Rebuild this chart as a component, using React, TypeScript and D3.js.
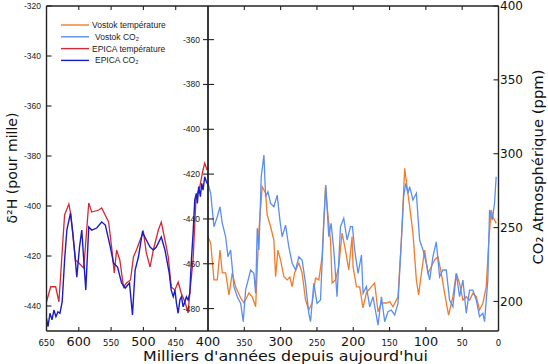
import React from 'react';
import * as d3 from 'd3';

// [age ka, δD ‰] EPICA
const epicaTemp: [number, number][] = [
  [650, -438.3], [643.5, -432.3], [635.8, -432.3], [630.8, -438.3], [622, -403.6], [615.4, -399.2],
  [612.8, -402.8], [605.1, -421.6], [600, -422.8], [592.3, -424.8], [584.6, -398.8], [580, -402.4],
  [569.2, -401.6], [564.6, -400.8], [553.8, -406.4], [549.2, -416.4], [545.1, -426.8], [541.5, -417.6],
  [536.5, -421.6], [530.8, -432.4], [526.2, -430.8], [520, -429.6], [515.4, -420.4], [510.8, -417.6],
  [505.1, -413.6], [500, -410.4], [495.4, -418.8], [489.7, -424.4], [484.6, -417.6], [476.9, -409.6],
  [472.3, -406.4], [466.6, -413.6], [461.5, -420.4], [456.9, -432.4], [451.2, -433.6], [446.2, -430.4],
  [441.5, -434.8], [435.8, -438.3], [430.8, -442.8], [428.2, -434.8], [423.1, -421.6], [418.5, -396.4],
  [412.8, -392.4], [407.7, -385.6], [405.1, -382.8], [401.5, -385.6],
];

// [age ka, CO2 ppm] EPICA
const epicaCO2: [number, number][] = [
  [650, 188.6], [647.7, 183], [644.6, 192], [641.5, 187.5], [638.5, 194.2], [635.4, 189.7], [632.3, 193],
  [629.2, 192], [625.7, 199.8], [622, 228], [618.5, 248.3], [612.8, 259.9], [609.2, 246.3], [605.1, 226.7],
  [603.1, 216.5], [598.9, 236.8], [595.4, 248.3], [592.3, 228], [589.2, 207.7], [584.6, 250.4], [580, 248.3],
  [572.3, 249.7], [564.6, 253.8], [558.9, 251.7], [551.2, 236.8], [546.2, 226], [540, 223.3], [533.8, 212.5],
  [528.2, 209.1], [521.5, 212.5], [516.9, 190.8], [512.8, 221.3], [507.7, 230.1], [501.5, 247], [495.4, 241.6],
  [489.7, 236.8], [484.6, 234.8], [480, 236.8], [472.3, 243.6], [466.6, 234.8], [460, 219.2], [456.9, 207.7],
  [453.8, 203.2], [451.2, 207.7], [448.8, 198.7], [446.2, 192], [443.5, 201], [441.1, 203.2], [438.5, 196.4],
  [435.8, 199.8], [433.4, 203.2], [430.8, 201], [428.2, 205.5], [425.7, 228], [423.1, 246.1], [420.5, 268.7],
  [418, 273.2], [416.5, 266.4], [414.4, 277.7], [411.8, 271], [409.7, 280], [407.7, 275.4], [405.1, 284.4],
  [402.6, 281], [400, 279],
];

// [age ka, δD ‰] Vostok
const vostokTemp: [number, number][] = [
  [400, -447.9], [396.3, -450.7], [391.8, -467.2], [387.2, -467.2], [383.5, -453.9], [380.3, -464.1],
  [375.7, -464.1], [371.1, -473.9], [366.6, -464.1], [361.9, -470.4], [355, -475.3], [350.5, -477.5],
  [343.6, -473], [339.1, -474.8], [334.4, -479.2], [329.9, -444.9], [325.4, -425.6], [320.7, -428.4],
  [318.5, -438.2], [313.8, -443.5], [309.3, -449.4], [306.9, -465.8], [303.8, -453.9], [300.1, -458.3],
  [295.5, -465.8], [291, -467.2], [287.3, -465.9], [284.1, -470.2], [280.8, -464.1], [274.9, -459.7],
  [270.4, -464.1], [265.7, -476.2], [261.2, -480.6], [256.6, -477.5], [252, -466.4], [247.4, -467.2],
  [242.9, -456.9], [238.2, -425.6], [235.1, -437.4], [231.3, -449.4], [229.1, -468.6], [224.5, -467.2],
  [220, -461.3], [215.4, -446.3], [210.7, -453.9], [206.2, -462.8], [201.6, -447.9], [200.3, -461.3],
  [195.6, -470.2], [191.1, -470.4], [186.6, -479.7], [181.9, -473], [175, -470.2], [170.5, -468.6],
  [165.9, -481.4], [161.2, -477.5], [154.4, -477.5], [149.8, -476.9], [145.3, -479.2], [138.4, -474.7],
  [133.7, -449.4], [129.2, -417.4], [126, -425.6], [122.3, -434.5], [117.8, -446.3], [113.1, -467.2],
  [110, -473.9], [106.2, -464.3], [101.7, -453.9], [97.2, -464.3], [92.5, -461.3], [88, -458.3],
  [83.4, -456.9], [78.7, -464.3], [74.2, -473.2], [68.7, -482.9], [62.8, -474.7], [58.1, -464.3],
  [53.6, -468.7], [49, -476.2], [44.4, -474.7], [39.9, -476.2], [35.3, -473.2], [30.6, -474.7],
  [26.1, -480.6], [21.5, -477.6], [16.9, -470.2], [13.3, -449.4], [10, -436], [7.8, -439], [3.2, -442],
];

// [age ka, CO2 ppm] Vostok
const vostokCO2: [number, number][] = [
  [400, 280], [396.3, 273.2], [391.8, 250.6], [387.2, 257.4], [383.5, 264.1], [380.3, 252.9], [375.7, 243.8],
  [372.5, 230.3], [368.8, 234.8], [364.3, 210], [359.7, 203.2], [355, 198.7], [351.5, 186.3], [348.2, 207.8],
  [341.3, 221.3], [336.8, 219], [334.4, 205.5], [332.2, 249.5], [329.9, 234.8], [326.7, 284.4], [323, 299.1],
  [320.7, 270.9], [317.5, 274.3], [313.8, 266.4], [309.3, 264.1], [304.7, 272], [301, 255.1], [297.9, 243.8],
  [293.2, 251.7], [288.7, 237], [284.1, 225.8], [279.4, 221.3], [274.9, 230.3], [270.4, 228], [265.7, 212.3],
  [261.2, 191.9], [258.8, 186.3], [254.3, 212.3], [249.8, 198.7], [245.1, 201], [240.6, 252.9], [237.8, 278.8],
  [233.7, 243.8], [230.5, 252.9], [226.8, 234.8], [222.3, 203.2], [217.6, 250.6], [213.1, 256.3], [208.5, 241.6],
  [203.8, 250.6], [201.1, 250.6], [198, 234.8], [193.4, 219], [188.7, 231.4], [186.5, 205.5], [181.9, 210],
  [177.3, 196.4], [172.8, 203.2], [165.9, 184], [161.2, 203.2], [156.7, 186.3], [152.2, 193], [147.5, 194.2],
  [143, 190.8], [138.4, 198.7], [133.7, 241.6], [130.6, 270.9], [127.8, 280], [124.7, 273.2], [122.3, 277.7],
  [117.8, 268.7], [113.1, 273.2], [108.6, 241.6], [104, 234.8], [99.4, 225.8], [94.8, 214.5], [90.3, 230.3],
  [85.7, 240.4], [81.1, 216.7], [76.6, 221.3], [71.9, 221.3], [67.4, 201], [62.8, 196.4], [58.1, 219],
  [53.6, 203.2], [49, 214.5], [44.4, 192], [39.9, 207.7], [35.3, 207.7], [30.6, 201], [26.1, 189.7],
  [21.5, 192], [19.2, 186.3], [14.7, 214.5], [12.3, 261.9], [8.6, 255.1], [5.5, 266.4], [3.2, 284.4],
];

const epicaTicks = [-440, -420, -400, -380, -360, -340, -320];
const vostokTicks = [-480, -460, -440, -420, -400, -380, -360];
const co2Ticks = [200, 250, 300, 350, 400];
const leftAgeTicks = [650, 600, 550, 500, 450, 400];
const rightAgeTicks = [350, 300, 250, 200, 150, 100, 50, 0];
const bigAgeLabels = [600, 500, 400, 300, 200, 100];

const legendItems = [
  { label: 'Vostok température', color: '#f07c2c', dx: 0 },
  { label: 'Vostok CO₂', color: '#5b8ef2', dx: 3 },
  { label: 'EPICA température', color: '#d12a36', dx: 0 },
  { label: 'EPICA CO₂', color: '#1c1cc4', dx: 3 },
];

const top = 6, bottom = 331, left = 46.5, mid = 208, right = 498.5;

export default function App() {
  const xL = d3.scaleLinear().domain([650, 400]).range([left, mid]);
  const xR = d3.scaleLinear().domain([400, 0]).range([mid, right]);
  const yE = d3.scaleLinear().domain([-450, -320]).range([bottom, top]);
  const yV = d3.scaleLinear().domain([-490, -345]).range([bottom, top]);
  const yC = d3.scaleLinear().domain([180, 400]).range([bottom, top]);

  const lineET = d3.line<[number, number]>().x(d => xL(d[0])).y(d => yE(d[1]));
  const lineEC = d3.line<[number, number]>().x(d => xL(d[0])).y(d => yC(d[1]));
  const lineVT = d3.line<[number, number]>().x(d => xR(d[0])).y(d => yV(d[1]));
  const lineVC = d3.line<[number, number]>().x(d => xR(d[0])).y(d => yC(d[1]));

  const ageTickX = [...leftAgeTicks.map(a => xL(a)), ...rightAgeTicks.map(a => xR(a))];
  const ageLabels = [
    ...leftAgeTicks.map(a => ({ a, x: xL(a) })),
    ...rightAgeTicks.map(a => ({ a, x: xR(a) })),
  ];
  const axisColor = '#222';

  return (
    <svg width={548} height={364} style={{ position: 'fixed', left: 0, top: 0, background: '#fff' }}>
      <rect width={548} height={364} fill="#fff" />
      {/* data */}
      <path d={lineVT(vostokTemp) || ''} fill="none" stroke="#f07c2c" strokeWidth={1.3} />
      <path d={lineVC(vostokCO2) || ''} fill="none" stroke="#5b8ef2" strokeWidth={1.3} />
      <path d={lineET(epicaTemp) || ''} fill="none" stroke="#d12a36" strokeWidth={1.3} />
      <path d={lineEC(epicaCO2) || ''} fill="none" stroke="#1c1cc4" strokeWidth={1.4} />

      {/* frame */}
      <line x1={left} x2={right} y1={top} y2={top} stroke={axisColor} strokeWidth={1.4} />
      <line x1={left} x2={right} y1={bottom} y2={bottom} stroke={axisColor} strokeWidth={1.4} />
      <line x1={left} x2={left} y1={top} y2={bottom} stroke={axisColor} strokeWidth={1.4} />
      <line x1={mid} x2={mid} y1={top} y2={bottom} stroke={axisColor} strokeWidth={1.8} />
      <line x1={right} x2={right} y1={top} y2={bottom} stroke={axisColor} strokeWidth={1.4} />

      {/* x ticks top & bottom */}
      {ageTickX.filter(x => x > left + 1 && x < right - 1 && Math.abs(x - mid) > 1).map((x, i) => (
        <g key={'xt' + i}>
          <line x1={x} x2={x} y1={top} y2={top + 4} stroke={axisColor} strokeWidth={1.1} />
          <line x1={x} x2={x} y1={bottom} y2={bottom - 4} stroke={axisColor} strokeWidth={1.1} />
        </g>
      ))}
      {ageLabels.map(({ a, x }, i) => {
        const big = bigAgeLabels.includes(a);
        return (
          <text key={'xl' + i} x={x} y={345.5} textAnchor="middle" fontFamily="DejaVu Sans" fontSize={big ? 12.8 : 8.5} fill="#111">
            {a}
          </text>
        );
      })}

      {/* EPICA δD axis (left) */}
      {epicaTicks.map(t => (
        <g key={'e' + t}>
          <line x1={left} x2={left + 5} y1={yE(t)} y2={yE(t)} stroke={axisColor} strokeWidth={1.1} />
          <text x={41} y={yE(t)} dy="0.35em" textAnchor="end" fontFamily="Liberation Sans" fontSize={8.5} fill="#222">{t}</text>
        </g>
      ))}

      {/* Vostok δD axis (middle) */}
      {vostokTicks.map(t => (
        <g key={'v' + t}>
          <line x1={mid - 5} x2={mid + 6} y1={yV(t)} y2={yV(t)} stroke={axisColor} strokeWidth={1.1} />
          <text x={200} y={yV(t)} dy="0.35em" textAnchor="end" fontFamily="Liberation Sans" fontSize={8.5} fill="#222">{t}</text>
        </g>
      ))}

      {/* CO2 axis (right) */}
      {co2Ticks.map(t => (
        <g key={'c' + t}>
          <line x1={right - 5} x2={right} y1={yC(t)} y2={yC(t)} stroke={axisColor} strokeWidth={1.1} />
          <text x={500} y={yC(t)} dy="0.36em" textAnchor="start" fontFamily="DejaVu Sans" fontSize={12} fill="#111">{t}</text>
        </g>
      ))}

      {/* axis titles */}
      <text x={285.5} y={361} textAnchor="middle" fontFamily="DejaVu Sans" fontSize={14.5} fill="#111"
        textLength={285} lengthAdjust="spacingAndGlyphs">Milliers d'années depuis aujourd'hui</text>
      <text transform="translate(17,168) rotate(-90)" textAnchor="middle" fontFamily="DejaVu Sans" fontSize={14} fill="#111"
        textLength={111} lengthAdjust="spacingAndGlyphs">δ²H (pour mille)</text>
      <text transform="translate(543,167) rotate(-90)" textAnchor="middle" fontFamily="DejaVu Sans" fontSize={14.5} fill="#111"
        textLength={195} lengthAdjust="spacingAndGlyphs">CO₂ Atmosphérique (ppm)</text>

      {/* legend */}
      {legendItems.map((it, i) => {
        const y = 25 + i * 11.8;
        return (
          <g key={it.label}>
            <line x1={61} x2={89} y1={y} y2={y} stroke={it.color} strokeWidth={1.4} />
            <text x={92 + it.dx} y={y} dy="0.35em" fontFamily="Liberation Sans" fontSize={8.5} fill="#222">{it.label}</text>
          </g>
        );
      })}
    </svg>
  );
}
